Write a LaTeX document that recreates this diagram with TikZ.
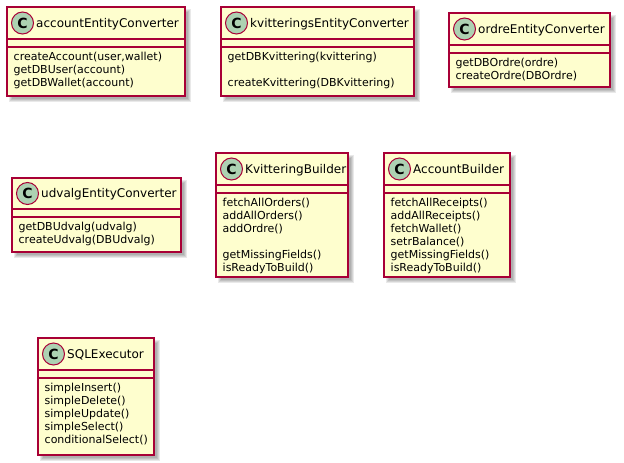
\documentclass[tikz,border=0pt]{standalone}
\usepackage{fontspec}
\setmainfont{DejaVu Sans}
\definecolor{umlfill}{HTML}{FEFECE}
\definecolor{umlline}{HTML}{A80036}
\definecolor{umlspot}{HTML}{ADD1B2}
\tikzset{
  classbox/.style={draw=umlline, line width=1.5pt, fill=umlfill, inner sep=0pt, outer sep=0pt, anchor=north west},
  divider/.style={draw=umlline, line width=1.5pt},
  spot/.style={circle, draw=umlline, line width=1pt, fill=umlspot, minimum size=22pt, inner sep=0pt, font=\fontsize{14}{14}\selectfont\bfseries},
  classname/.style={anchor=base west, inner sep=0pt, font=\fontsize{12}{14}\selectfont},
  members/.style={anchor=north west, inner sep=0pt, align=left, font=\fontsize{11}{13}\selectfont},
  shadowbox/.style={fill=black, fill opacity=0.085, draw=none}
}
\newcommand\umlclass[9]{%
  \foreach \e in {2,1,0,-1}{\fill[shadowbox] (#2+4-\e,#3+4-\e) rectangle (#4+4+\e,#5+4+\e);}
  \node[classbox, minimum width={(#4-#2)*1pt}, minimum height={(#5-#3)*1pt}] (#1) at (#2,#3) {};
  \draw[divider] (#2,#6) -- (#4,#6);
  \draw[divider] (#2,#7) -- (#4,#7);
  \node[spot] (#1-spot) at (#2+15.5,{(#3+#6)/2}) {C};
  \node[classname] (#1-name) at (#2+29,{(#3+#6)/2+4.4}) {#8};
  \node[members] (#1-members) at (#2+6.5,#7+3.9) {\strut #9};
}
\begin{document}
\begin{tikzpicture}[x=1pt,y=-1pt]
  \useasboundingbox[fill=white] (0,0) rectangle (624,463);
  \umlclass{acc}{7}{7}{185}{96}{39}{47}{accountEntityConverter}{createAccount(user,wallet)\\getDBUser(account)\\getDBWallet(account)}
  \umlclass{kvit}{221}{7}{414}{96}{39}{47}{kvitteringsEntityConverter}{getDBKvittering(kvittering)\\[13pt]createKvittering(DBKvittering)}
  \umlclass{ordre}{449}{13}{610}{87}{45}{53}{ordreEntityConverter}{getDBOrdre(ordre)\\createOrdre(DBOrdre)}
  \umlclass{udvalg}{12}{178}{181}{252}{209}{217}{udvalgEntityConverter}{getDBUdvalg(udvalg)\\createUdvalg(DBUdvalg)}
  \umlclass{kb}{216}{153}{348}{277}{185}{193}{KvitteringBuilder}{fetchAllOrders()\\addAllOrders()\\addOrdre()\\[13pt]getMissingFields()\\isReadyToBuild()}
  \umlclass{ab}{384}{153}{510}{277}{185}{193}{AccountBuilder}{fetchAllReceipts()\\addAllReceipts()\\fetchWallet()\\setrBalance()\\getMissingFields()\\isReadyToBuild()}
  \umlclass{sql}{38}{338}{154}{455}{370}{378}{SQLExecutor}{simpleInsert()\\simpleDelete()\\simpleUpdate()\\simpleSelect()\\conditionalSelect()}
\end{tikzpicture}
\end{document}
